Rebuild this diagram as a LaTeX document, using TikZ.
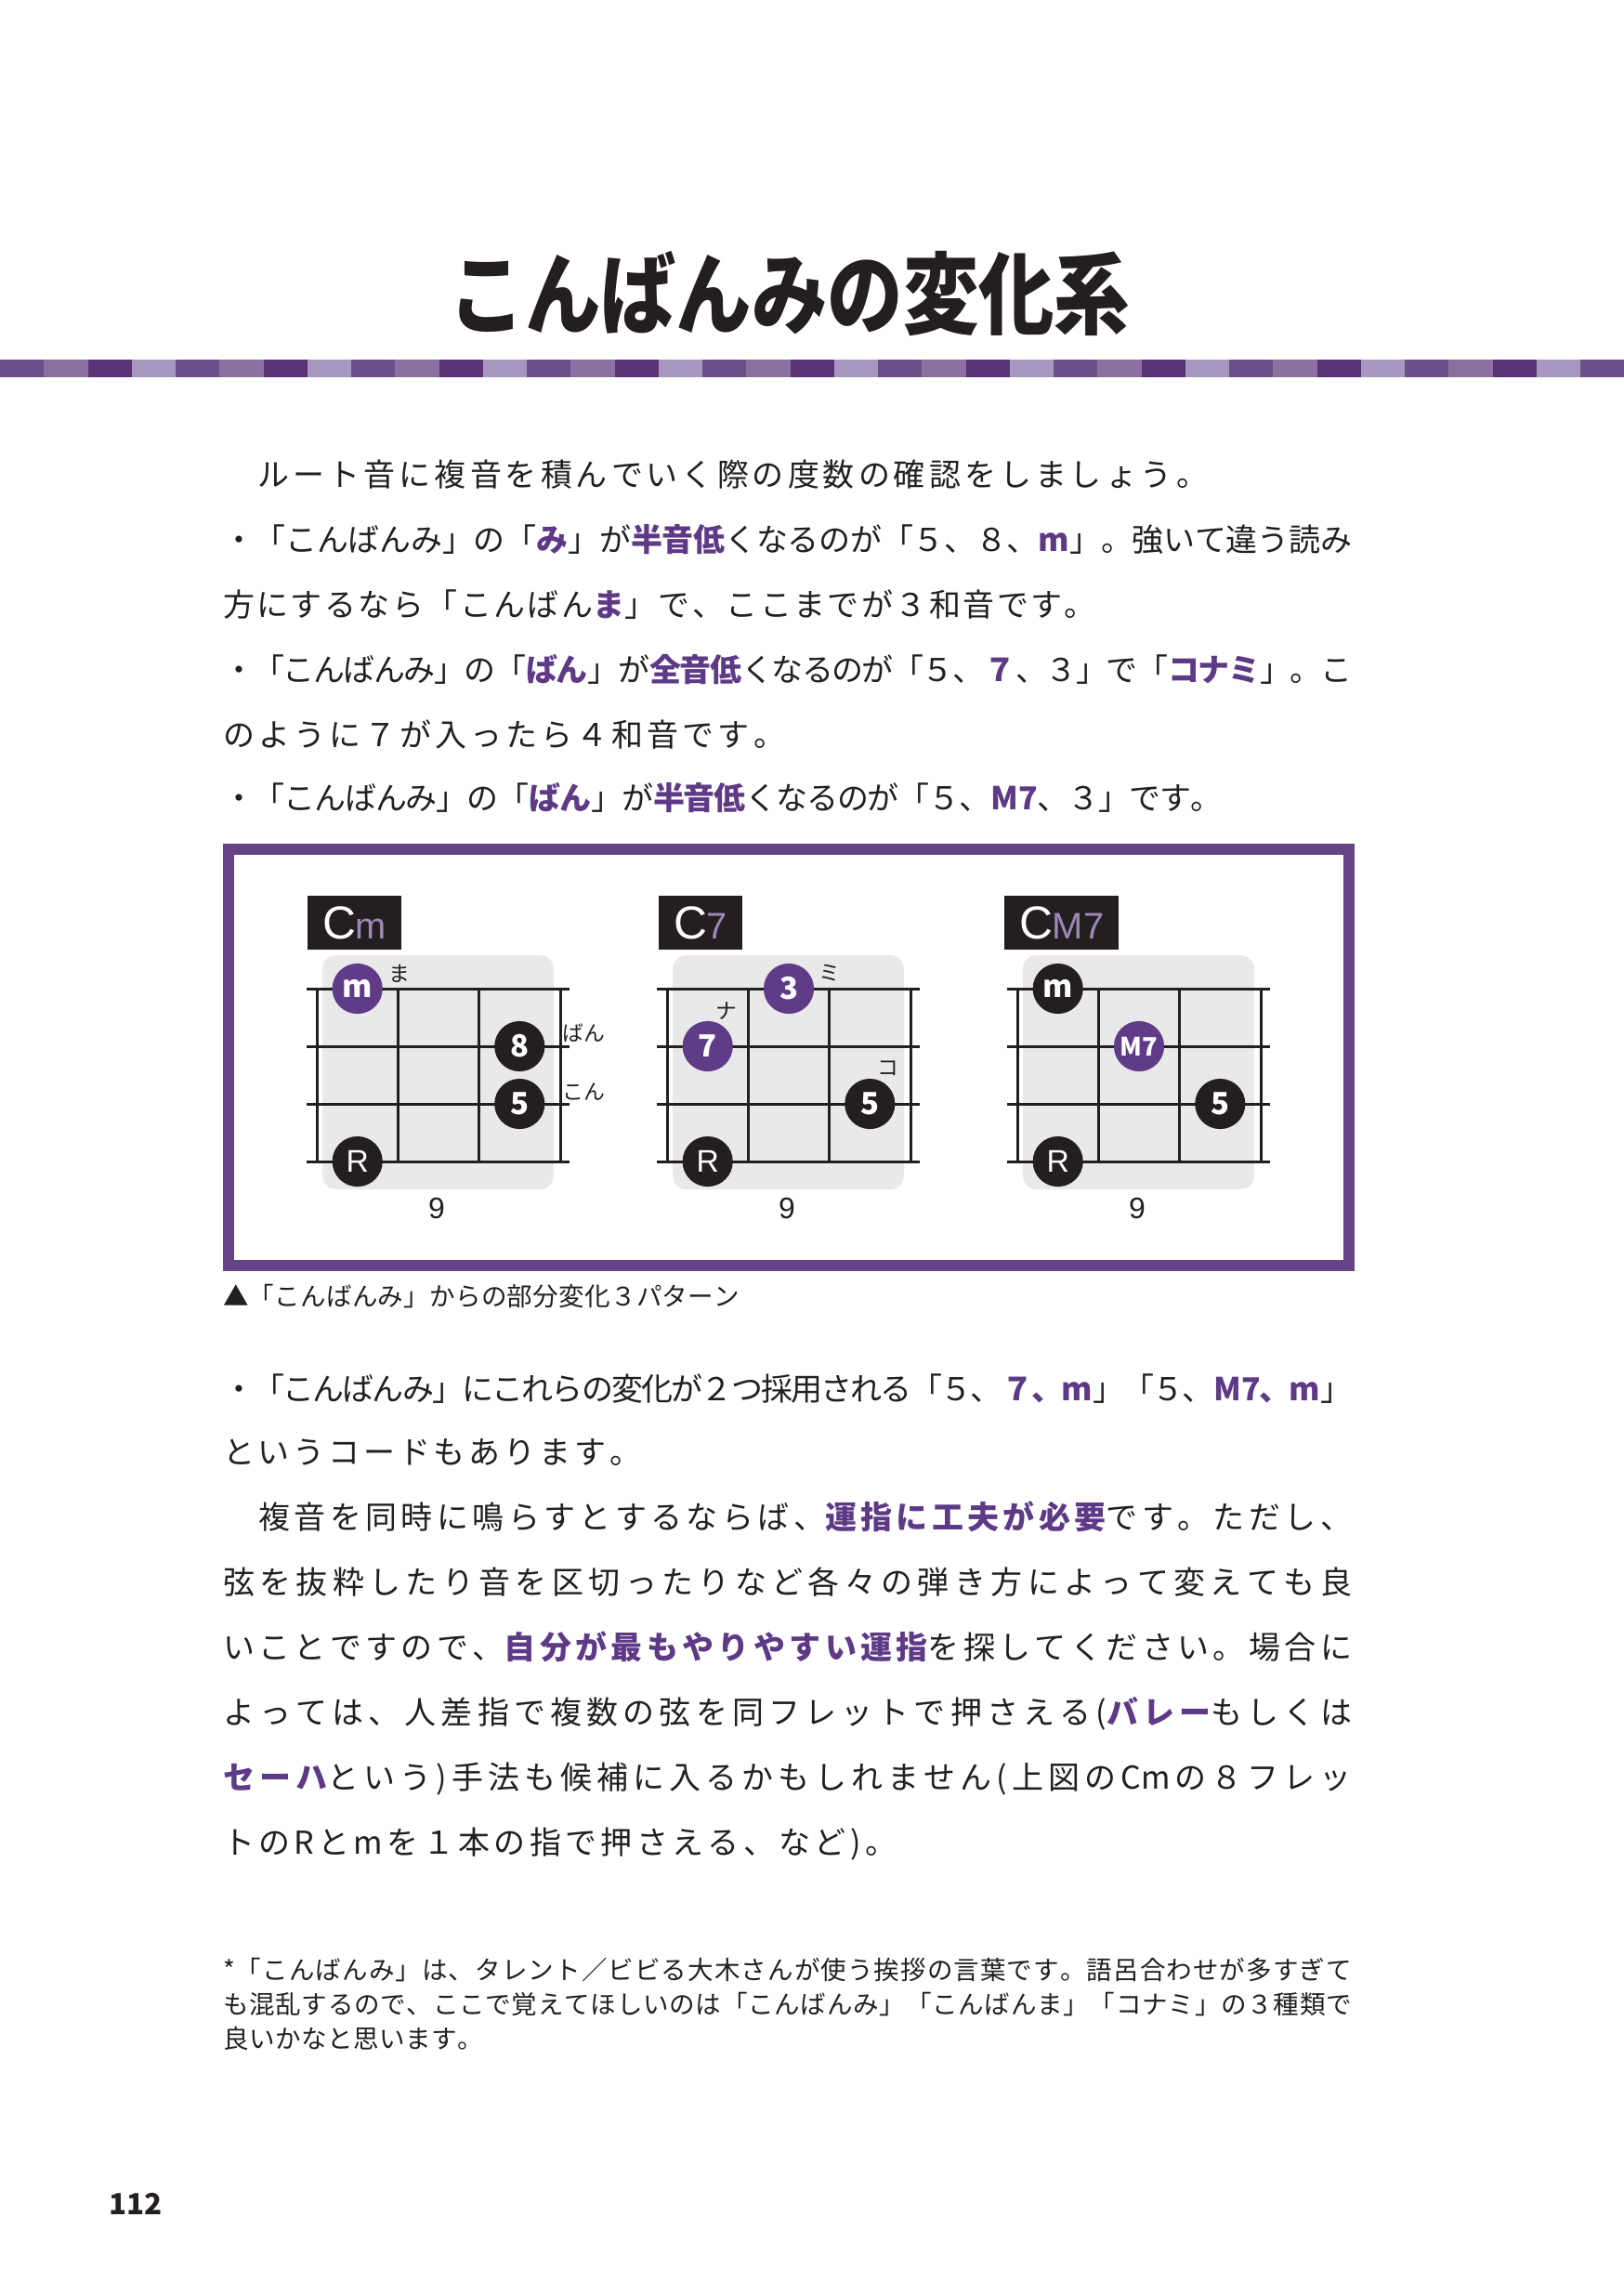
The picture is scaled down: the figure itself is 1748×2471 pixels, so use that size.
\documentclass[tikz,border=0pt]{standalone}
\usepackage{fontspec}
\usepackage{graphicx}
\setmainfont{Noto Sans CJK JP}
\newfontfamily\latinfont{Liberation Sans}

\definecolor{ink}{HTML}{231F20}
\definecolor{kpurple}{HTML}{5E3A86}
\definecolor{dotpurple}{HTML}{603C88}
\definecolor{framepurple}{HTML}{654385}
\definecolor{lightpurple}{HTML}{9C88B6}
\definecolor{boardgray}{HTML}{EAE9EA}
\definecolor{stripe0}{HTML}{6D5089}
\definecolor{stripe1}{HTML}{8A71A2}
\definecolor{stripe2}{HTML}{5A3377}
\definecolor{stripe3}{HTML}{A797BE}

\newlength{\unitpx}
\setlength{\unitpx}{0.12mm}

\newcount\cjkchar
\newcommand{\setcjkclass}[2]{\cjkchar=#1\relax
	\loop\XeTeXcharclass\cjkchar=11\relax\advance\cjkchar by 1\relax\ifnum\cjkchar<#2\relax\repeat}
\setcjkclass{"3000}{"3100}
\setcjkclass{"4E00}{"A000}
\setcjkclass{"FF00}{"FFF0}
\XeTeXcharclass"25B2=11
\XeTeXinterchartokenstate=1
\newcommand{\jglue}{\hskip 0pt plus 1fil minus 1.5pt\relax}
\XeTeXinterchartoks 0 11 = {\jglue}
\XeTeXinterchartoks 11 0 = {\jglue}
\XeTeXinterchartoks 11 11 = {\jglue}

\newcommand{\jline}[2]{\makebox[#1\unitpx][s]{#2}}
\newcommand{\hl}[1]{{\color{kpurple}\bfseries#1}}

\newcommand{\bodyfont}{\fontsize{11.6pt}{13pt}\selectfont}
\newcommand{\notefont}{\fontsize{9.4pt}{11pt}\selectfont}
\newcommand{\kanafont}{\fontsize{7.8pt}{9pt}\selectfont}
\newcommand{\titlefont}{\fontsize{27.8pt}{30pt}\selectfont\bfseries}
\newcommand{\pagefont}{\fontsize{10.7pt}{12pt}\selectfont\bfseries}
\newcommand{\dotfont}{\fontsize{11.2pt}{12pt}\selectfont\bfseries}
\newcommand{\smalldotfont}{\fontsize{9.3pt}{10pt}\selectfont\bfseries}
\newcommand{\rootfont}{\latinfont\fontsize{11.5pt}{12pt}\selectfont}
\newcommand{\chordfont}{\latinfont\fontsize{17pt}{18pt}\selectfont}
\newcommand{\sufffont}{\fontsize{13.6pt}{14pt}\selectfont}
\newcommand{\fretfont}{\latinfont\fontsize{10.9pt}{12pt}\selectfont}

\begin{document}
\begin{tikzpicture}[
		x=0.12mm,
		y=-0.12mm,
		every node/.style={
				inner sep=0pt,
				outer sep=0pt,
				text=ink
			},
		bodyline/.style={
				anchor=base west,
				font=\bodyfont
			},
		noteline/.style={
				anchor=base west,
				font=\notefont
			},
		board/.style={
				fill=boardgray,
				rounded corners=1.8mm
			},
		fretline/.style={
				draw=ink,
				line width=0.36mm
			},
		figframe/.style={
				draw=framepurple,
				line width=1.44mm
			},
		chordlabel/.style={
				fill=ink,
				text=white,
				anchor=north west,
				minimum height=6.96mm,
				inner xsep=1.92mm,
				font=\chordfont
			},
		finger/.style={
				circle,
				fill=ink,
				text=white,
				minimum size=6.5mm,
				font=\dotfont
			},
		highlight/.style={
				finger,
				fill=dotpurple
			},
		kana/.style={
				font=\kanafont
			},
		fretnum/.style={
				font=\fretfont
			}
	]
	\fill[white] (0,0) rectangle (1748,2471);
	\useasboundingbox (0,0) rectangle (1748,2471);

	\node[font=\titlefont] (title) at (850,316) {\scalebox{1}[1.18]{こんばんみの変化系}};
	\foreach \i in {0,...,36} {
		\pgfmathtruncatemacro{\k}{mod(\i,4)}
		\fill[fill=stripe\k] (\i*47.25,387) rectangle ++(47.25,19);
	}

	\node[bodyline] (intro) at (240,523) {\jline{1060}{　ルート音に複音を積んでいく際の度数の確認をしましょう。}};
	\node[bodyline] (minora) at (240,593) {\jline{1215}{・「こんばんみ」の「\hl{み}」が\hl{半音低}くなるのが「５、８、\hl{m}」。強いて違う読み}};
	\node[bodyline] (minorb) at (240,663) {\jline{940}{方にするなら「こんばん\hl{ま}」で、ここまでが３和音です。}};
	\node[bodyline] (sevena) at (240,733) {\jline{1215}{・「こんばんみ」の「\hl{ばん}」が\hl{全音低}くなるのが「５、\hl{７}、３」で「\hl{コナミ}」。こ}};
	\node[bodyline] (sevenb) at (240,803) {\jline{605}{のように７が入ったら４和音です。}};
	\node[bodyline] (majseven) at (240,871) {\jline{1075}{・「こんばんみ」の「\hl{ばん}」が\hl{半音低}くなるのが「５、\hl{M7}、３」です。}};

	\draw[figframe] (246,914) rectangle (1452,1362);
	\foreach \ox in {341,718,1095} {
		\fill[board] (\ox+6,1028) rectangle (\ox+255,1280);
		\foreach \sy in {1064,1126,1188,1250}
		\draw[fretline] (\ox-11,\sy) -- (\ox+272,\sy);
		\foreach \fx in {0,87.33,174.67,262}
		\draw[fretline] (\ox+\fx,1064) -- (\ox+\fx,1250);
	}

	\node[chordlabel] (cm) at (331,964) {C{\sufffont\color{lightpurple}m}};
	\node[highlight] (cm-m) at (384.7,1064) {m};
	\node[finger] (cm-8) at (559.3,1126) {8};
	\node[finger] (cm-5) at (559.3,1188) {5};
	\node[finger, font=\rootfont] (cm-r) at (384.7,1250) {R};
	\node[kana] (cm-ma) at (430,1048) {ま};
	\node[kana] (cm-ban) at (628,1112) {ばん};
	\node[kana] (cm-kon) at (628,1175) {こん};
	\node[fretnum] (cm-fret) at (470,1300) {9};

	\node[chordlabel] (cseven) at (709,964) {C{\sufffont\color{lightpurple}7}};
	\node[highlight] (cseven-3) at (849,1064) {3};
	\node[highlight] (cseven-7) at (761.7,1126) {7};
	\node[finger] (cseven-5) at (936.3,1188) {5};
	\node[finger, font=\rootfont] (cseven-r) at (761.7,1250) {R};
	\node[kana] (cseven-mi) at (893,1047) {ミ};
	\node[kana] (cseven-na) at (782,1088) {ナ};
	\node[kana] (cseven-ko) at (956,1150) {コ};
	\node[fretnum] (cseven-fret) at (847,1300) {9};

	\node[chordlabel] (cmaj) at (1081,964) {C{\sufffont\color{lightpurple}M7}};
	\node[finger] (cmaj-m) at (1138.7,1064) {m};
	\node[highlight, font=\smalldotfont] (cmaj-7) at (1226,1126) {M7};
	\node[finger] (cmaj-5) at (1313.3,1188) {5};
	\node[finger, font=\rootfont] (cmaj-r) at (1138.7,1250) {R};
	\node[fretnum] (cmaj-fret) at (1224,1300) {9};

	\node[noteline] (caption) at (240,1405) {\jline{556}{▲「こんばんみ」からの部分変化３パターン}};

	\node[bodyline] (botha) at (240,1507) {\jline{1215}{・「こんばんみ」にこれらの変化が２つ採用される「５、\hl{７、m}」「５、\hl{M7、m}」}};
	\node[bodyline] (bothb) at (240,1575) {\jline{450}{というコードもあります。}};
	\node[bodyline] (fingera) at (240,1645) {\jline{1215}{　複音を同時に鳴らすとするならば、\hl{運指に工夫が必要}です。ただし、}};
	\node[bodyline] (fingerb) at (240,1715) {\jline{1215}{弦を抜粋したり音を区切ったりなど各々の弾き方によって変えても良}};
	\node[bodyline] (fingerc) at (240,1785) {\jline{1215}{いことですので、\hl{自分が最もやりやすい運指}を探してください。場合に}};
	\node[bodyline] (fingerd) at (240,1855) {\jline{1215}{よっては、人差指で複数の弦を同フレットで押さえる(\hl{バレー}もしくは}};
	\node[bodyline] (fingere) at (240,1925) {\jline{1215}{\hl{セーハ}という)手法も候補に入るかもしれません(上図のCmの８フレッ}};
	\node[bodyline] (fingerf) at (240,1995) {\jline{725}{トのRとmを１本の指で押さえる、など)。}};

	\node[noteline] (notea) at (240,2130) {\jline{1215}{*「こんばんみ」は、タレント／ビビる大木さんが使う挨拶の言葉です。語呂合わせが多すぎて}};
	\node[noteline] (noteb) at (240,2167) {\jline{1215}{も混乱するので、ここで覚えてほしいのは「こんばんみ」「こんばんま」「コナミ」の３種類で}};
	\node[noteline] (notec) at (240,2204) {\jline{280}{良いかなと思います。}};

	\node[font=\pagefont] (pageno) at (146,2372) {112};
\end{tikzpicture}
\end{document}
